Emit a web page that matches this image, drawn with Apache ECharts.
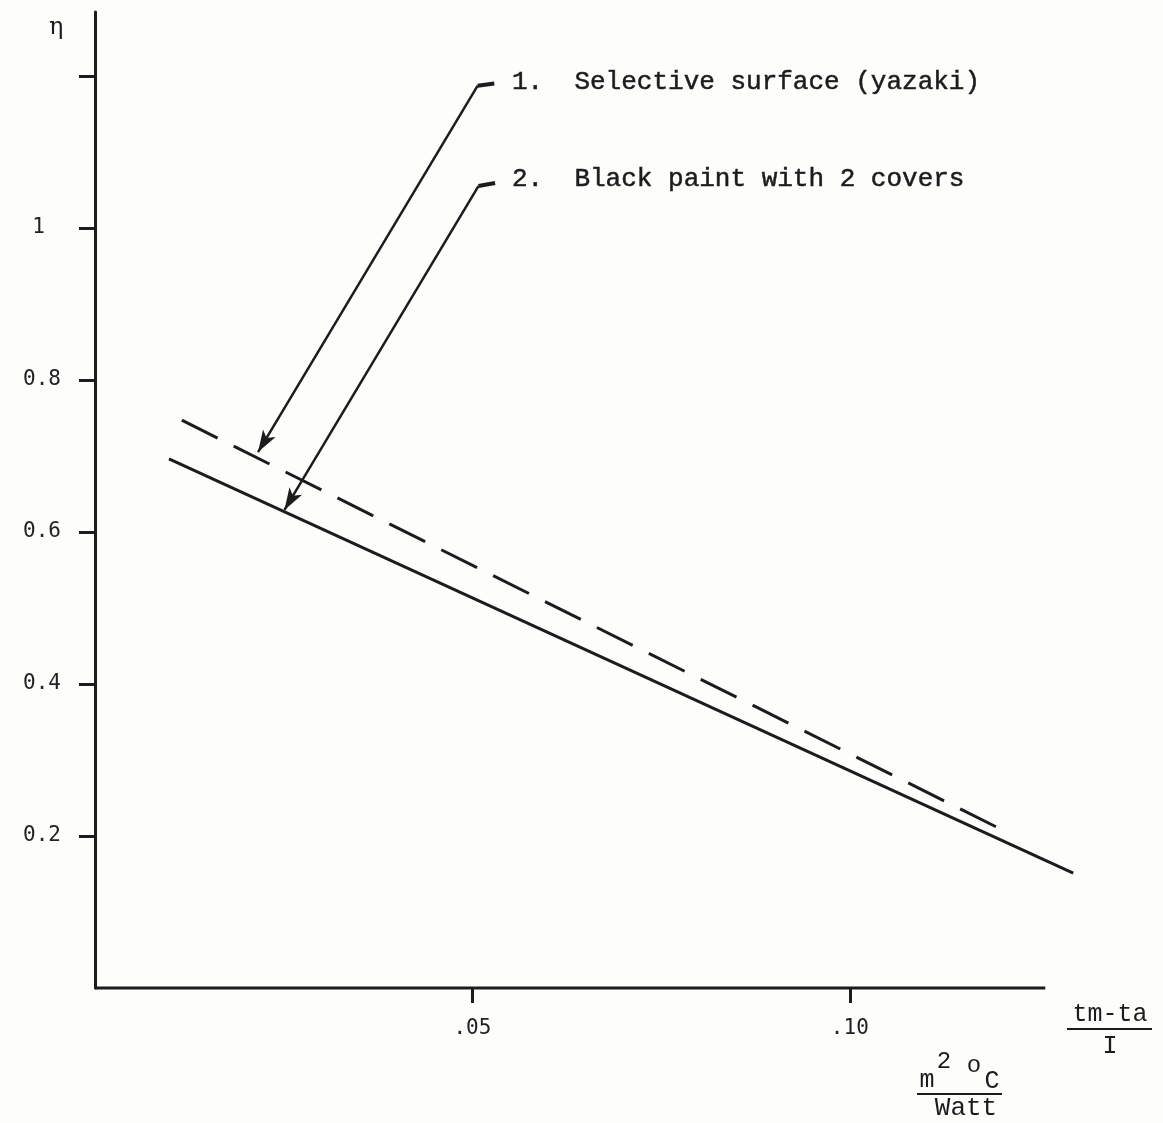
<!DOCTYPE html>
<html>
<head>
<meta charset="utf-8">
<script src="https://cdn.jsdelivr.net/npm/echarts@6/dist/echarts.min.js"></script>
<style>
  html, body { margin: 0; padding: 0; background: #fdfdfc; }
  #chart { width: 1163px; height: 1123px; }
</style>
</head>
<body>
<div id="chart"></div>
<script>
// ---- data ----
// Curve 1: Selective surface (yazaki) - dashed
const selectiveX = [0.0115, 0.1200];
const selectiveY = [0.747, 0.209];
// Curve 2: Black paint with 2 covers - solid
const blackX = [0.0098, 0.1296];
const blackY = [0.696, 0.151];

// Leader lines (hook end, knee, arrow tip) in data units
const leader1X = [0.0529, 0.0507, 0.0216];
const leader1Y = [1.190, 1.187, 0.705];
const leader2X = [0.0530, 0.0508, 0.0251];
const leader2Y = [1.059, 1.055, 0.629];

// Drawn x-axis line extent (the plotted curve runs past it)
const xAxisLineEnd = 0.1259;

// Ticks and labels
const xTickValues = [0.05, 0.10];
const xTickLabels = ['.05', '.10'];
const yTickValues = [0.2, 0.4, 0.6, 0.8, 1.0, 1.2];
const yLabelValues = [0.2, 0.4, 0.6, 0.8, 1.0];
const yLabelTexts = ['0.2', '0.4', '0.6', '0.8', '1'];

const legendTexts = ['1.  Selective surface (yazaki)', '2.  Black paint with 2 covers'];

const ink = '#1c1c1c';
const zip = (xs, ys) => xs.map((x, i) => [x, ys[i]]);

function leaderSeries(xs, ys) {
  const pts = zip(xs, ys);
  return {
    type: 'line',
    data: [pts[0], pts[1]],
    showSymbol: false,
    clip: false,
    lineStyle: { color: ink, width: 4 },
    silent: true,
    z: 3,
    markLine: {
      silent: true,
      symbol: ['none', 'arrow'],
      symbolSize: [11, 22],
      label: { show: false },
      lineStyle: { color: ink, width: 2.5, type: 'solid' },
      data: [[{ coord: pts[1] }, { coord: pts[2] }]]
    }
  };
}

const chart = echarts.init(document.getElementById('chart'));
const mono = '"Liberation Mono", "DejaVu Sans Mono", monospace';
const tickFont = '"DejaVu Sans Mono", monospace';

chart.setOption({
  animation: false,
  backgroundColor: '#fdfdfc',
  grid: { left: 95, right: 86, top: 12, bottom: 135 },
  xAxis: {
    type: 'value',
    min: 0,
    max: 0.1301,
    splitLine: { show: false },
    axisLine: { show: false },
    axisTick: {
      show: true, customValues: xTickValues, length: 15, inside: false,
      lineStyle: { color: ink, width: 3 }
    },
    axisLabel: {
      show: true, customValues: xTickValues, margin: 30,
      color: '#222', fontSize: 21, fontFamily: tickFont,
      formatter: v => {
        const i = xTickValues.findIndex(t => Math.abs(t - v) < 1e-9);
        return i >= 0 ? xTickLabels[i] : '';
      }
    }
  },
  yAxis: {
    type: 'value',
    min: 0,
    max: 1.284,
    splitLine: { show: false },
    axisLine: { show: true, lineStyle: { color: ink, width: 3 } },
    axisTick: {
      show: true, customValues: yTickValues, length: 16, inside: false,
      lineStyle: { color: ink, width: 3 }
    },
    axisLabel: {
      show: true, customValues: yLabelValues, margin: 34,
      color: '#222', fontSize: 21, fontFamily: tickFont,
      rich: { one: { fontSize: 21, fontFamily: tickFont, color: '#222', padding: [0, 16, 0, 0] } },
      formatter: v => {
        const i = yLabelValues.findIndex(t => Math.abs(t - v) < 1e-9);
        if (i < 0) return '';
        return yLabelTexts[i].length === 1 ? '{one|' + yLabelTexts[i] + '}' : yLabelTexts[i];
      }
    }
  },
  series: [
    {
      // x-axis baseline
      type: 'line',
      data: [[0, 0], [xAxisLineEnd, 0]],
      showSymbol: false,
      clip: false,
      silent: true,
      lineStyle: { color: ink, width: 3 },
      z: 1
    },
    {
      name: 'Selective surface (yazaki)',
      type: 'line',
      data: zip(selectiveX, selectiveY),
      showSymbol: false,
      clip: false,
      lineStyle: { color: ink, width: 3, type: [40, 18] },
      z: 2
    },
    {
      name: 'Black paint with 2 covers',
      type: 'line',
      data: zip(blackX, blackY),
      showSymbol: false,
      clip: false,
      lineStyle: { color: ink, width: 3 },
      z: 2
    },
    leaderSeries(leader1X, leader1Y),
    leaderSeries(leader2X, leader2Y)
  ],
  graphic: [
    { type: 'text', left: 49, top: 16, style: { text: 'η', fill: ink, font: '24px "DejaVu Serif", serif' } },
    { type: 'text', x: 512, y: 82, style: { text: legendTexts[0], fill: ink, stroke: ink, lineWidth: 0.5, font: '26px ' + mono, verticalAlign: 'middle' } },
    { type: 'text', x: 512, y: 179, style: { text: legendTexts[1], fill: ink, stroke: ink, lineWidth: 0.5, font: '26px ' + mono, verticalAlign: 'middle' } },
    // x-axis name: (tm-ta)/I
    { type: 'text', x: 1110, y: 1014, style: { text: 'tm-ta', fill: ink, font: '25px ' + mono, align: 'center', verticalAlign: 'middle' } },
    { type: 'line', shape: { x1: 1067, y1: 1029, x2: 1152, y2: 1029 }, style: { stroke: ink, lineWidth: 2 } },
    { type: 'text', x: 1110, y: 1046, style: { text: 'I', fill: ink, font: '25px ' + mono, align: 'center', verticalAlign: 'middle' } },
    // units: m2 oC / Watt
    { type: 'text', x: 927, y: 1080, style: { text: 'm', fill: ink, font: '25px ' + mono, align: 'center', verticalAlign: 'middle' } },
    { type: 'text', x: 944, y: 1062, style: { text: '2', fill: ink, font: '24px ' + mono, align: 'center', verticalAlign: 'middle' } },
    { type: 'text', x: 974, y: 1066, style: { text: 'o', fill: ink, font: '24px ' + mono, align: 'center', verticalAlign: 'middle' } },
    { type: 'text', x: 992, y: 1081, style: { text: 'C', fill: ink, font: '25px ' + mono, align: 'center', verticalAlign: 'middle' } },
    { type: 'line', shape: { x1: 917, y1: 1094, x2: 1002, y2: 1094 }, style: { stroke: ink, lineWidth: 2 } },
    { type: 'text', x: 966, y: 1108, style: { text: 'Watt', fill: ink, font: '26px ' + mono, align: 'center', verticalAlign: 'middle' } }
  ]
});
</script>
</body>
</html>
